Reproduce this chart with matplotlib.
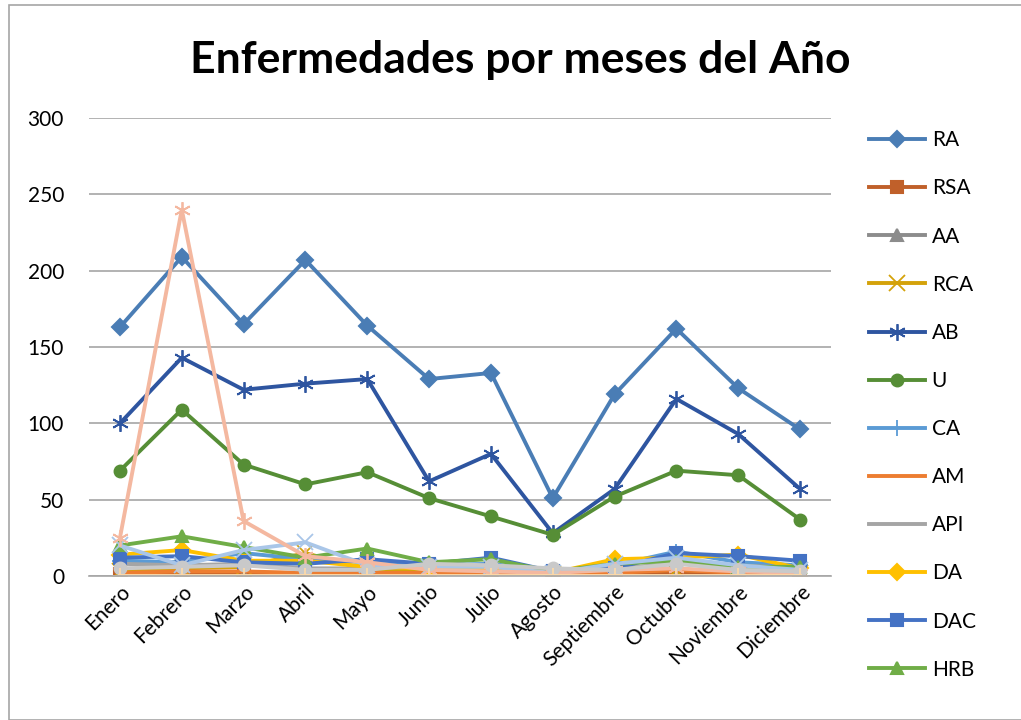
import numpy as np
import matplotlib
matplotlib.use("Agg")
import matplotlib.pyplot as plt
from matplotlib.patches import Rectangle

meses = ["Enero", "Febrero", "Marzo", "Abril", "Mayo", "Junio", "Julio",
         "Agosto", "Septiembre", "Octubre", "Noviembre", "Diciembre"]

ra = [163, 209, 165, 207, 164, 129, 133, 51, 119, 162, 123, 96]
rsa = [1, 1, 1, 2, 0, 1, 1, 0, 1, 2, 1, 1]
aa = [0, 0, 0, 0, 0, 0, 0, 0, 0, 0, 0, 0]
rca = [3, 5, 6, 15, 4, 3, 2, 1, 3, 4, 3, 2]
ab = [100, 143, 122, 126, 129, 62, 80, 28, 57, 116, 93, 57]
u = [69, 109, 73, 60, 68, 51, 39, 27, 52, 69, 66, 37]
ca = [10, 9, 15, 11, 9, 7, 8, 3, 7, 16, 9, 7]
am = [2, 3, 3, 2, 2, 2, 2, 1, 2, 4, 2, 2]
api = [8, 7, 8, 5, 5, 6, 6, 3, 5, 8, 7, 5]
da = [14, 17, 10, 10, 6, 5, 4, 2, 11, 12, 14, 5]
dac = [12, 13, 9, 8, 11, 8, 12, 3, 5, 15, 13, 10]
hrb = [20, 26, 19, 12, 18, 9, 11, 3, 8, 10, 6, 6]
# series not visible in the (truncated) legend
s13 = [20, 7, 17, 22, 7, 6, 6, 2, 8, 12, 7, 4]
s14 = [25, 240, 36, 13, 9, 4, 3, 2, 4, 5, 3, 2]
s15 = [5, 6, 7, 4, 4, 8, 7, 5, 4, 8, 4, 3]
s16 = [0, 0, 0, 0, 0, 0, 0, 0, 0, 0, 0, 0]

star = (6, 2, 0)
series = [
    ("RA", ra, "#4A7DB5", "D"),
    ("RSA", rsa, "#C0602A", "s"),
    ("AA", aa, "#8C8C8C", "^"),
    ("RCA", rca, "#D4A20A", "x"),
    ("AB", ab, "#2E55A0", star),
    ("U", u, "#568E36", "o"),
    ("CA", ca, "#5B9BD5", "+"),
    ("AM", am, "#ED7D31", None),
    ("API", api, "#A5A5A5", None),
    ("DA", da, "#FFC000", "D"),
    ("DAC", dac, "#4472C4", "s"),
    ("HRB", hrb, "#70AD47", "^"),
    ("S13", s13, "#A9C6E8", "x"),
    ("S14", s14, "#F4B8A0", star),
    ("S15", s15, "#C9C9C9", "o"),
    ("S16", s16, "#FDD9A8", "+"),
]

plt.rcParams['font.family'] = ['Lato', 'DejaVu Sans']

fig = plt.figure(figsize=(10.21, 7.2), dpi=100)
fig.patches.append(Rectangle((0.009, 0.0), 1.2, 0.993, transform=fig.transFigure,
                             fill=False, edgecolor="#A6A6A6", linewidth=1.2))
ax = fig.add_axes([0.0872, 0.2, 0.7267, 0.6361])

x = np.arange(len(meses))
handles = []
for name, vals, col, mk in series:
    ms = 8.5
    mew = 1.5
    if mk in ("x", "+") or mk == star:
        ms = 12
        mew = 1.3
    h, = ax.plot(x, vals, color=col, linewidth=2.8, marker=mk, markersize=ms,
                 markeredgewidth=mew, markeredgecolor=col, markerfacecolor=col,
                 solid_joinstyle="round", label=name)
    handles.append(h)

ax.set_xlim(-0.5, len(meses) - 0.5)
ax.set_ylim(0, 300)
ax.set_yticks(np.arange(0, 301, 50))
ax.yaxis.grid(True, color="#A6A6A6", linewidth=1.2)
ax.set_axisbelow(True)
for s in ["top", "right", "left"]:
    ax.spines[s].set_visible(False)
ax.spines["bottom"].set_color("#A6A6A6")
ax.spines["bottom"].set_linewidth(1.2)
ax.tick_params(axis="y", length=0, labelsize=15, pad=18)
ax.tick_params(axis="x", length=0, labelsize=15, pad=4)
ax.set_xticks(x)
ax.set_xticklabels(meses, rotation=45, ha="right", rotation_mode="anchor")

fig.text(0.51, 0.917, "Enfermedades por meses del Año", ha="center", va="center",
         fontsize=32, fontweight="bold")

fig.legend(handles=handles[:12], loc="upper left", bbox_to_anchor=(0.833, 0.845),
           frameon=False, fontsize=15, handlelength=2.7, handletextpad=0.3,
           labelspacing=1.35)

fig.savefig("out.png", dpi=100)
